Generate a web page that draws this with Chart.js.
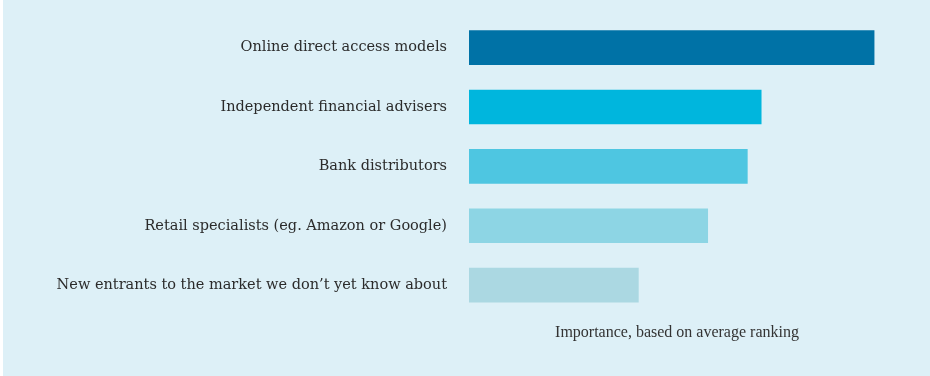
<!DOCTYPE html>
<html>
<head>
<meta charset="utf-8">
<script src="https://cdn.jsdelivr.net/npm/chart.js@4"></script>
<style>
  html, body { margin: 0; padding: 0; background: #ffffff; }
  #wrap { position: absolute; left: 3px; top: 0; width: 927px; height: 376px; background: #ddf0f7; }
</style>
</head>
<body>
<div id="wrap"><canvas id="channels"></canvas></div>
<script>
// distribution channels, ranked by importance
const channels = [
    "Online direct access models",
    "Independent financial advisers",
    "Bank distributors",
    "Retail specialists (eg. Amazon or Google)",
    "New entrants to the market we don\u2019t yet know about"
];
const importance = [4.09, 2.95, 2.81, 2.41, 1.71];
const barColors = ["#0072a6", "#00b6dd", "#4ec6e1", "#8dd5e4", "#abd8e2"];
const axisTitle = "Importance, based on average ranking";

new Chart(document.getElementById("channels"), {
    type: "bar",
    data: {
        labels: channels,
        datasets: [{
            data: importance,
            backgroundColor: barColors,
            barThickness: 34
        }]
    },
    options: {
        indexAxis: "y",
        responsive: true,
        maintainAspectRatio: false,
        animation: false,
        layout: { padding: { top: 18, right: 45, bottom: 34, left: 0 } },
        plugins: { legend: { display: false }, tooltip: { enabled: false } },
        scales: {
            x: {
                min: 0,
                max: 4.2,
                grid: { display: false, drawTicks: false },
                border: { display: false },
                ticks: { display: false },
                title: {
                    display: true,
                    text: axisTitle,
                    color: "#333333",
                    font: { family: "Liberation Serif", size: 16 },
                    padding: { top: 8, bottom: 0 }
                }
            },
            y: {
                // hidden tick marks keep labels away from the bars
                grid: { display: false, drawTicks: true, tickLength: 13 },
                border: { display: false },
                ticks: {
                    color: "#2b2b2b",
                    padding: 9,
                    font: { family: "DejaVu Serif", size: 14.5 }
                },
                afterFit: function (scale) { scale.width = 466; }
            }
        }
    }
});
</script>
</body>
</html>
